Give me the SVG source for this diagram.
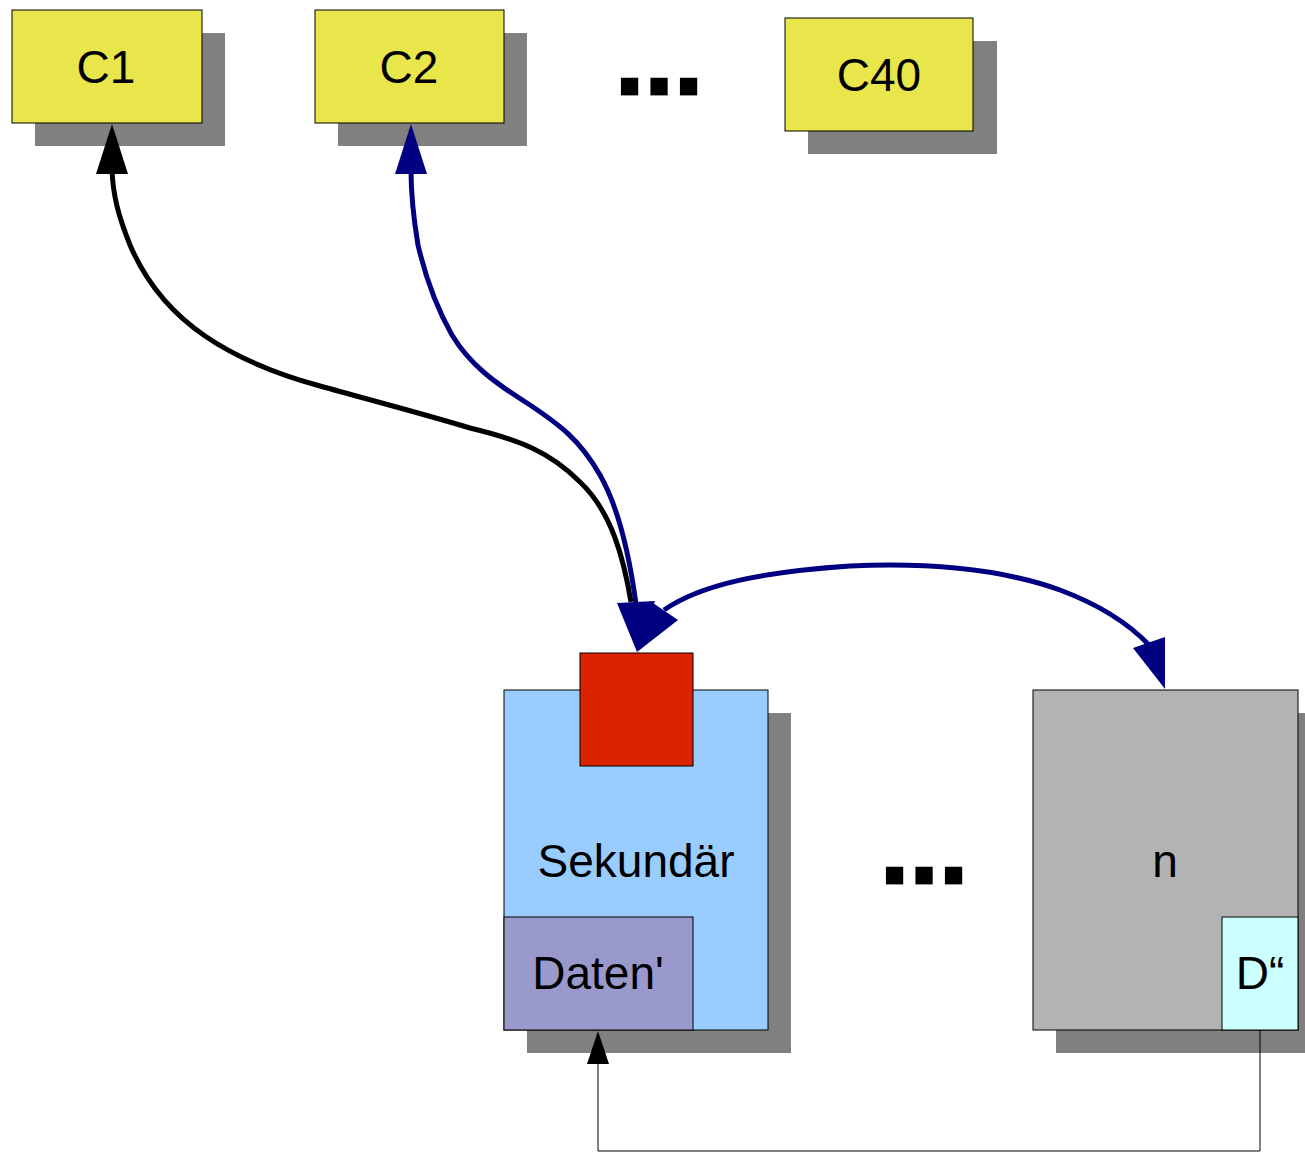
<svg xmlns="http://www.w3.org/2000/svg" width="1305" height="1153" viewBox="0 0 1305 1153">
<style>
.sh{fill:#808080;stroke:none}
.bx{stroke:#000;stroke-width:1}
.t{font-family:"Liberation Sans",Arial,sans-serif;font-size:46px;text-anchor:middle;fill:#000}
.dots{font-family:"Liberation Sans",Arial,sans-serif;font-weight:bold;font-size:60px;letter-spacing:12.8px;fill:#000;stroke:#000;stroke-width:8.8px;stroke-linejoin:miter}
.thick{fill:none;stroke-width:5;stroke-linejoin:round;stroke-linecap:butt}
</style>
<rect width="1305" height="1153" fill="#fff"/>
<g id="c1"><rect class="sh" x="35" y="33" width="190" height="113"/><rect class="bx" x="12" y="10" width="190" height="113" fill="#e8e64a"/><text class="t" x="106" y="83">C1</text></g>
<g id="c2"><rect class="sh" x="338" y="33" width="189" height="113"/><rect class="bx" x="315" y="10" width="189" height="113" fill="#e8e64a"/><text class="t" x="409" y="83">C2</text></g>
<g id="c40"><rect class="sh" x="808" y="41" width="189" height="113"/><rect class="bx" x="785" y="18" width="188" height="113" fill="#e8e64a"/><text class="t" x="879" y="91">C40</text></g>
<g id="dots1"><text class="dots" x="621.3" y="90.6">...</text></g>
<g id="dots2"><text class="dots" x="886.3" y="879.6">...</text></g>
<g id="sekundaer"><rect class="sh" x="527" y="713" width="264" height="340"/><rect class="bx" x="504" y="690" width="264" height="340" fill="#99ccff"/><text class="t" x="636" y="877">Sekundär</text></g>
<g id="red"><rect class="bx" x="580" y="653" width="113" height="113" fill="#dd2200"/></g>
<g id="daten"><rect class="bx" x="504" y="917" width="189" height="113" fill="#9999cc"/><text class="t" x="598" y="989">Daten'</text></g>
<g id="n"><rect class="sh" x="1056" y="713" width="260" height="340"/><rect class="bx" x="1033" y="690" width="265" height="340" fill="#b3b3b3"/><text class="t" x="1165" y="877">n</text></g>
<g id="d2"><rect class="bx" x="1222" y="917" width="76" height="113" fill="#ccffff"/><text class="t" x="1260" y="989">D“</text></g>
<g id="connectors">
<path class="thick" stroke="#000" d="M631,602 C624,560 612,512 580,482 C550,452 520,440 470,428 C420,413 370,400 320,386 C280,375 240,360 205,336 C170,312 145,280 130,245 C118,215 113,195 112,170"/>
<polygon points="112,124 96,174 128,174" fill="#000"/>
<path class="thick" stroke="#000080" d="M636,604 C630,560 620,510 600,475 C580,440 560,425 530,405 C495,383 470,365 452,335 C435,305 425,275 418,245 C413,215 411,195 411,170"/>
<polygon points="411,124 395,174 427,174" fill="#000080"/>
<polygon points="637,652 617,603 655,601" fill="#000080"/>
<path class="thick" stroke="#000080" d="M664,610 C700,585 760,572 850,566 C940,562 1010,572 1060,590 C1100,605 1130,625 1149,645"/>
<polygon points="637,652 650,601 678,620" fill="#000080"/>
<polygon points="1165,689 1133,648 1165,637" fill="#000080"/>
<polyline points="1260,1030 1260,1151 598,1151 598,1060" fill="none" stroke="#000" stroke-width="1"/>
<polygon points="598,1031 587,1064 609,1064" fill="#000"/>
</g>
</svg>
